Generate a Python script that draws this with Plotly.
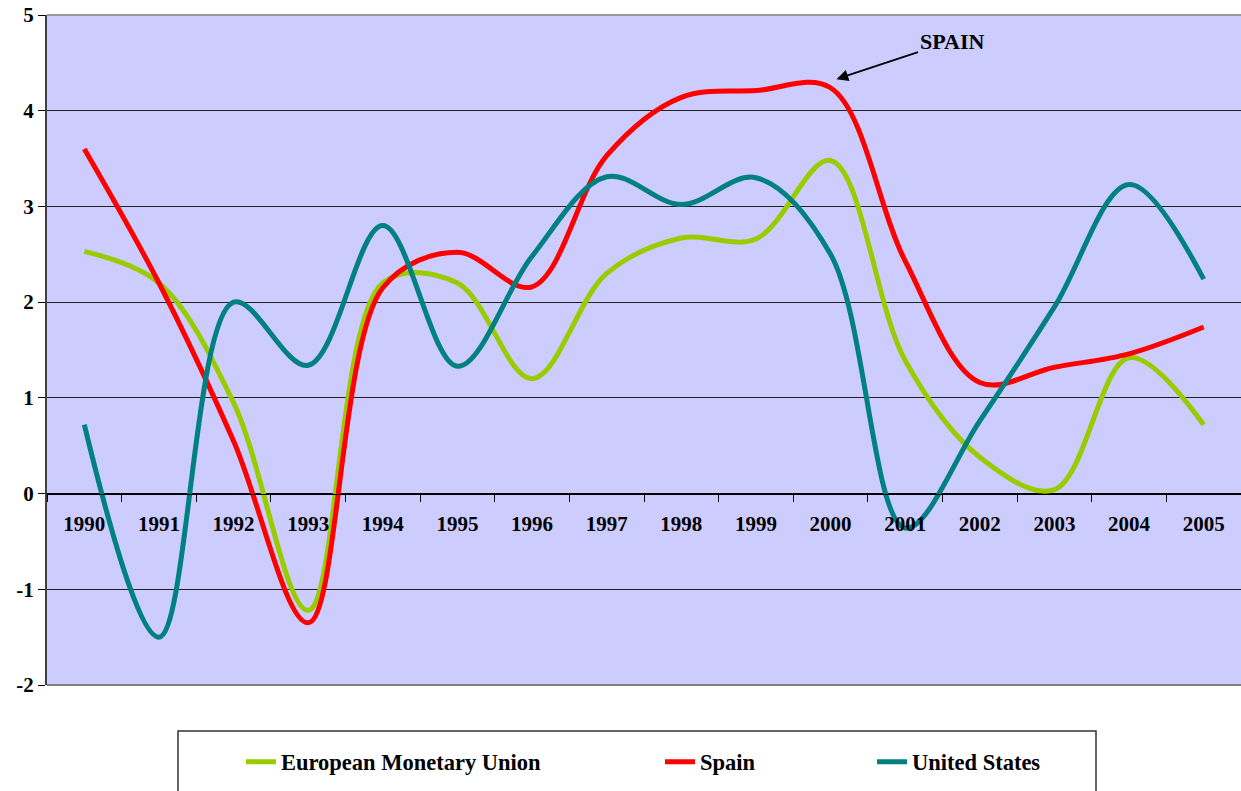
import plotly.graph_objects as go

years = [str(y) for y in range(1990, 2006)]
emu = [2.53, 2.2, 0.95, -1.22, 2.2, 2.2, 1.2, 2.3, 2.67, 2.66, 3.48, 1.39, 0.38, 0.04, 1.42, 0.72]
spain = [3.6, 2.2, 0.55, -1.35, 2.15, 2.52, 2.16, 3.53, 4.14, 4.21, 4.24, 2.43, 1.16, 1.32, 1.46, 1.74]
usa = [0.72, -1.5, 2.0, 1.34, 2.8, 1.33, 2.48, 3.31, 3.02, 3.3, 2.5, -0.36, 0.76, 1.95, 3.23, 2.24]

y_tickvals = [-2, -1, 0, 1, 2, 3, 4, 5]
y_ticktext = ["-2", "-1", "0", "1", "2", "3", "4", "5"]

names = ["European Monetary Union", "Spain", "United States"]
colors = ["#99CC00", "#FF0000", "#008080"]
series = [emu, spain, usa]
legends = ["legend", "legend2", "legend3"]

FONT = "Liberation Serif, Times New Roman, serif"

fig = go.Figure()
for name, col, vals, lg in zip(names, colors, series, legends):
    fig.add_trace(go.Scatter(
        x=years, y=vals, mode="lines", name=name,
        line=dict(color=col, width=5, shape="spline", smoothing=1.0),
        legend=lg,
    ))

L, R, T, B = 47, 0, 15, 106
W, H = 1241, 791
pw = W - L - R
ph = H - T - B

def px2x(px):
    return (px - L) / pw

def py2y(py):
    return (T + ph - py) / ph

legfont = dict(family=FONT, size=22.5, color="black", weight=700)
leg_common = dict(orientation="h", xanchor="left", yanchor="middle",
                  bgcolor="rgba(0,0,0,0)", borderwidth=0, font=legfont)

fig.update_layout(
    width=W, height=H,
    margin=dict(l=L, r=R, t=T, b=B, pad=0),
    paper_bgcolor="white",
    plot_bgcolor="#CCCCFF",
    showlegend=True,
    legend=dict(x=px2x(241), y=py2y(762), **leg_common),
    legend2=dict(x=px2x(660), y=py2y(762), **leg_common),
    legend3=dict(x=px2x(872), y=py2y(762), **leg_common),
    xaxis=dict(
        type="category",
        anchor="free", position=2 / 7,
        showline=True, linecolor="black", linewidth=1,
        ticks="outside", tickson="boundaries", ticklen=7, tickcolor="black",
        showgrid=False,
        tickfont=dict(family=FONT, size=21, color="black", weight=700),
        ticklabelstandoff=11,
        range=[-0.5, 15.5],
    ),
    yaxis=dict(
        range=[-2, 5], tickvals=y_tickvals, ticktext=y_ticktext,
        showline=True, linecolor="#404040", linewidth=2,
        ticks="outside", ticklen=7, tickcolor="black",
        showgrid=True, gridcolor="#222222", gridwidth=1,
        zeroline=True, zerolinecolor="black", zerolinewidth=1,
        tickfont=dict(family=FONT, size=21, color="black", weight=700),
    ),
    shapes=[
        dict(type="line", xref="paper", yref="paper", x0=0, x1=1, y0=1, y1=1,
             line=dict(color="#999999", width=2), layer="above"),
        dict(type="line", xref="paper", yref="paper", x0=0, x1=1, y0=0, y1=0,
             line=dict(color="#808080", width=2), layer="above"),
        dict(type="rect", xref="paper", yref="paper",
             x0=px2x(178), x1=px2x(1096), y0=py2y(731), y1=py2y(805),
             line=dict(color="#333333", width=1.5), fillcolor="rgba(0,0,0,0)"),
    ],
    annotations=[
        dict(x=10.08, y=4.33, xref="x", yref="y", text="SPAIN",
             showarrow=True, ax=115, ay=-38, axref="pixel", ayref="pixel",
             arrowhead=2, arrowsize=1.3, arrowwidth=1.8, arrowcolor="black",
             standoff=0,
             font=dict(family=FONT, size=22, color="black", weight=700)),
    ],
)

fig.write_html("out.html",
               config={"displayModeBar": False},
               post_script="document.body.style.margin='0';document.body.style.padding='0';")
